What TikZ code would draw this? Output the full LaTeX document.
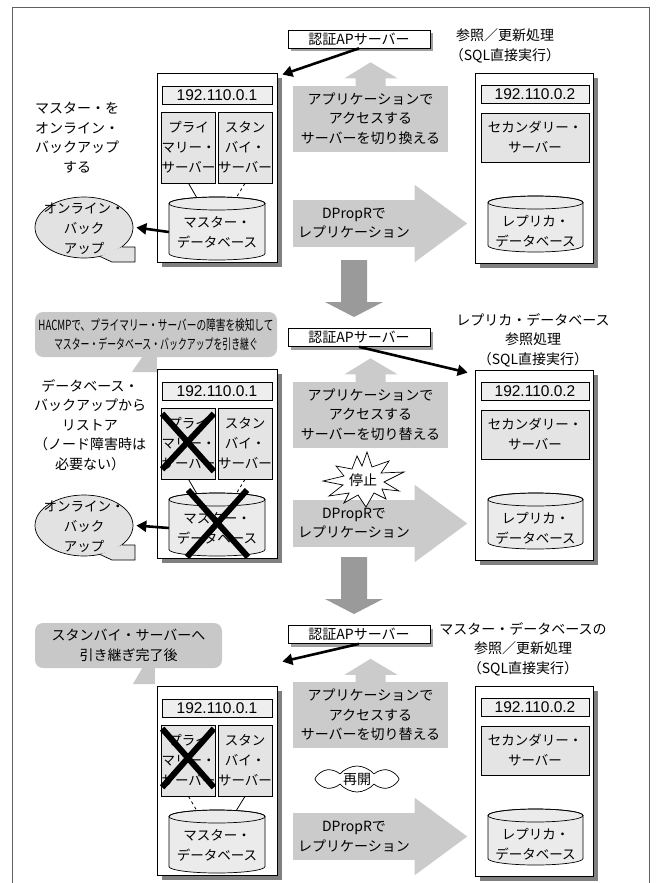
\documentclass[tikz,border=0pt]{standalone}
\usepackage{fontspec}
\setmainfont{Noto Sans CJK JP}
\newfontfamily\ipfamily{Liberation Sans}
\usepackage{graphicx}
\usetikzlibrary{calc,shapes.geometric,shapes.symbols,shadows,arrows.meta}
\definecolor{framec}{HTML}{606060}
\definecolor{arrowc}{HTML}{CBCBCB}
\definecolor{downc}{HTML}{9A9A9A}
\definecolor{calloutc}{HTML}{C8C8C8}
\definecolor{boxc}{HTML}{E4E4E4}
\definecolor{ipc}{HTML}{EEEEEE}
\definecolor{cylc}{HTML}{EBEBEB}
\definecolor{ovalc}{HTML}{E2E2E2}
\definecolor{shadowc}{HTML}{808080}
\definecolor{shadowl}{HTML}{A0A0A0}

\newcommand{\fs}{\fontsize{14pt}{19.5pt}\selectfont}
\newcommand{\fb}{\fontsize{13.5pt}{20pt}\selectfont}
\newcommand{\ipf}{\ipfamily\fontsize{15.5pt}{18pt}\selectfont}

\newcommand{\cyl}[4]{%
  \path[draw=black, fill=cylc, line width=0.7pt] ($(#1)+(-#2,#3+6.5)$) -- ($(#1)+(-#2,#4-6.5)$) arc[start angle=180,end angle=360,x radius=#2pt,y radius=6.5pt] -- ($(#1)+(#2,#3+6.5)$) arc[start angle=0,end angle=180,x radius=#2pt,y radius=6.5pt] -- cycle;
  \draw[line width=0.7pt] ($(#1)+(0,#3+6.5)$) ellipse[x radius=#2pt, y radius=6.5pt];
}

\newcommand{\leftsrv}[2]{%
  \node[srv, minimum width=120pt, minimum height=189pt] (L#2) at (217,#1+167.5) {};
  \node[ipbox, minimum width=110pt] (I#2) at (217,#1+95) {\ipf 192.110.0.1};
  \node[inbox, minimum width=53pt, minimum height=71pt] (P#2) at (188.5,#1+147.5) {プライ\\マリー・\\サーバー};
  \node[inbox, minimum width=54pt, minimum height=71pt] (S#2) at (245,#1+147.5) {スタン\\バイ・\\サーバー};
  \coordinate (D#2c) at (217,#1+232);
  \cyl{D#2c}{48}{-35}{28}
  \node[dbtxt, minimum width=96pt] (D#2) at (D#2c) {マスター・\\データベース};
}

\newcommand{\rightsrv}[2]{%
  \node[srv, minimum width=118pt, minimum height=190pt] (R#2) at (534,#1+168) {};
  \node[ipbox, minimum width=108pt] (J#2) at (535,#1+94.5) {\ipf 192.110.0.2};
  \node[inbox, minimum width=108pt, minimum height=49pt] (C#2) at (535,#1+137.5) {セカンダリー・\\サーバー};
  \coordinate (E#2c) at (535.5,#1+231);
  \cyl{E#2c}{47.5}{-35}{21}
  \node[dbtxt, minimum width=95pt] (E#2) at (E#2c) {レプリカ・\\データベース};
}

\newcommand{\uphead}[1]{%
  \fill[arrowc] ($(#1.north)+(-15,1)$) -- ($(#1.north)+(-15,-7)$) -- ($(#1.north)+(-26,-7)$) -- ($(#1.north)+(0,-23)$) -- ($(#1.north)+(27,-7)$) -- ($(#1.north)+(15,-7)$) -- ($(#1.north)+(15,1)$) -- cycle;}

\newcommand{\rhead}[1]{%
  \fill[arrowc] ($(#1.north east)+(-0.5,-15)$) -- ($(#1.east)+(52,0)$) -- ($(#1.south east)+(-0.5,15)$) -- cycle;}

\newcommand{\downarr}[1]{%
  \fill[downc] (341,#1+260) -- (367,#1+260) -- (367,#1+302) -- (383,#1+302) -- (354,#1+317) -- (325,#1+302) -- (341,#1+302) -- cycle;}

\newcommand{\ovalcallout}[2]{%
  \node[ellipse, draw, fill=ovalc, line width=0.7pt, minimum width=98pt, minimum height=61pt, inner sep=0pt] (#1) at (84,#2) {};
  \fill[ovalc] ($(#1.center)+(38,19.5)$) -- ($(#1.center)+(51,19.5)$) -- ($(#1.center)+(51,34.5)$) -- ($(#1.center)+(28,34.5)$) -- ($(#1.center)+(16,29)$) -- cycle;
  \draw[line width=0.7pt] ($(#1.center)+(38,19.5)$) -- ($(#1.center)+(51,19.5)$) -- ($(#1.center)+(51,34.5)$) -- ($(#1.center)+(28,34.5)$) -- ($(#1.center)+(16,29)$);
  \node[txt, font=\fb] (#1t) at ($(#1.center)+(0,1.5)$) {オンライン・\\バック\\アップ};
}

\begin{document}
\begin{tikzpicture}[x=1pt,y=-1pt,font=\fs,
  txt/.style={align=center, inner sep=0pt, text=black},
  srv/.style={draw, fill=white, line width=0.8pt, inner sep=0pt,
    drop shadow={shadow xshift=4.5pt, shadow yshift=-4.5pt, fill=shadowc, opacity=1}},
  ipbox/.style={draw, fill=ipc, line width=0.7pt, minimum height=18pt, inner sep=0pt},
  inbox/.style={draw, fill=boxc, line width=0.7pt, align=center, inner sep=0pt, font=\fb},
  dbtxt/.style={align=center, inner sep=0pt, font=\fb},
  auth/.style={draw, fill=white, line width=0.7pt, minimum width=142pt, minimum height=18pt, inner sep=0pt,
    drop shadow={shadow xshift=3pt, shadow yshift=-3pt, fill=shadowl, opacity=1}},
  upbox/.style={fill=arrowc, minimum width=155pt, minimum height=66pt, inner sep=0pt, align=center},
  dropbox/.style={fill=arrowc, minimum width=122pt, minimum height=47pt, inner sep=0pt, align=center},
  callout/.style={fill=calloutc, rounded corners=8pt, inner sep=0pt, align=center},
  bigarrow/.style={line width=2.6pt, -{Triangle[length=10pt,width=11pt]}},
  xmark/.style={line width=6pt}
]
\useasboundingbox (0,0) rectangle (657,883);
\draw[framec, line width=1pt] (12,883) -- (12,8) -- (649,8) -- (649,883);

% ================= section 1 =================
\node[auth] (A1) at (359,39) {認証APサーバー};
\node[txt] (T1) at (505,46) {参照／更新処理\\（SQL直接実行）};
\node[txt] (N1) at (77,137.5) {マスター・を\\オンライン・\\バックアップ\\する};
\node[upbox] (U1) at (370.5,118.5) {アプリケーションで\\アクセスする\\サーバーを切り換える};
\uphead{U1}
\node[dropbox] (M1) at (354,223.5) {DPropRで\\レプリケーション};
\rhead{M1}
\downarr{0}
\leftsrv{0}{1}
\rightsrv{0}{1}
\draw[line width=0.8pt] (P1.south) -- ($(D1c)+(-20,-34)$);
\draw[line width=0.8pt, dashed] (S1.south) -- ($(D1c)+(19,-34)$);
\ovalcallout{O1}{227.5}
\coordinate (L1tip) at ($(L1.north east)+(5,2)$);
\draw[bigarrow] (A1.south) -- (L1tip);
\coordinate (O1e) at ($(O1.east)+(3,0)$);
\draw[bigarrow] (D1.west) -- (O1e);

% ================= section 2 =================
\node[callout, minimum width=242pt, minimum height=45pt] (H2) at (156,334.5)
  {\resizebox{235pt}{\height}{HACMPで、プライマリー・サーバーの障害を検知して}\\[-1pt]\resizebox{204pt}{\height}{マスター・データベース・バックアップを引き継ぐ}};
\fill[calloutc] ($(H2.south west)+(108,-1)$) -- ($(H2.south west)+(122,-1)$) -- ($(H2.south west)+(122,15)$) -- ($(H2.south west)+(97,15)$) -- cycle;
\node[auth] (A2) at (359,337.5) {認証APサーバー};
\node[txt] (T2) at (533,340) {レプリカ・データベース\\参照処理\\（SQL直接実行）};
\node[txt] (N2) at (90,425) {データベース・\\バックアップから\\リストア\\（ノード障害時は\\必要ない）};
\node[upbox] (U2) at (370.5,414.5) {アプリケーションで\\アクセスする\\サーバーを切り替える};
\uphead{U2}
\node[dropbox] (M2) at (354,523.5) {DPropRで\\レプリケーション};
\rhead{M2}
\downarr{297}
\leftsrv{296}{2}
\rightsrv{297}{2}
\draw[line width=0.8pt] (P2.south) -- ($(D2c)+(-20,-34)$);
\draw[line width=0.8pt, dashed] (S2.south) -- ($(D2c)+(19,-34)$);
\ovalcallout{O2}{525.5}
\coordinate (R2tip) at ($(R2.north west)+(-7,3)$);
\draw[bigarrow] (A2.south) -- (R2tip);
\coordinate (O2e) at ($(O2.east)+(3,0)$);
\draw[bigarrow] (D2.west) -- (O2e);
% stop burst
\filldraw[fill=white, draw=black, line width=0.7pt] (367,452) -- (372,467) -- (389,461) -- (381,473) -- (404,472) -- (384,482) -- (399,491) -- (382,489) -- (386,499) -- (374,493) -- (366,507) -- (358,495) -- (344,503) -- (349,493) -- (329,496) -- (343,485) -- (323,481) -- (344,476) -- (336,466) -- (352,469) -- (357,456) -- (362,466) -- cycle;
\node[txt] (Z2) at (363,480) {停止};
% X marks
\draw[xmark] ($(P2.north west)+(1,6)$) -- ($(P2.south east)+(-2,-8)$);
\draw[xmark] ($(P2.north east)+(-2,6)$) -- ($(P2.south west)+(1,-10)$);
\draw[xmark] ($(D2c)+(-29,-38)$) -- ($(D2c)+(31,29)$);
\draw[xmark] ($(D2c)+(30,-38)$) -- ($(D2c)+(-30,29)$);

% ================= section 3 =================
\node[callout, minimum width=187pt, minimum height=45pt] (K3) at (128.5,645.5) {スタンバイ・サーバーへ\\引き継ぎ完了後};
\fill[calloutc] ($(K3.south west)+(108,-1)$) -- ($(K3.south west)+(120,-1)$) -- ($(K3.south west)+(120,16)$) -- ($(K3.south west)+(98,16)$) -- cycle;
\node[auth] (A3) at (359,634.5) {認証APサーバー};
\node[txt] (T3) at (523,649) {マスター・データベースの\\参照／更新処理\\（SQL直接実行）};
\node[upbox] (U3) at (370.5,715) {アプリケーションで\\アクセスする\\サーバーを切り替える};
\uphead{U3}
\node[cloud, draw, fill=white, line width=0.7pt, cloud puffs=8, cloud puff arc=100, aspect=3.2, minimum width=84pt, minimum height=26pt, inner sep=0pt] (W3) at (357,779) {\raisebox{-1pt}{再開}};
\node[dropbox] (M3) at (354,836.5) {DPropRで\\レプリケーション};
\rhead{M3}
\leftsrv{613}{3}
\rightsrv{613}{3}
\draw[line width=0.8pt, dashed] (P3.south) -- ($(D3c)+(-20,-34)$);
\draw[line width=0.8pt] (S3.south) -- ($(D3c)+(19,-34)$);
\coordinate (L3tip) at ($(L3.north east)+(5,-24)$);
\draw[bigarrow] (A3.south) -- (L3tip);
\draw[xmark] ($(P3.north west)+(1,4)$) -- ($(P3.south east)+(-2,-9)$);
\draw[xmark] ($(P3.north east)+(-2,4)$) -- ($(P3.south west)+(1,-9)$);
\end{tikzpicture}
\end{document}
